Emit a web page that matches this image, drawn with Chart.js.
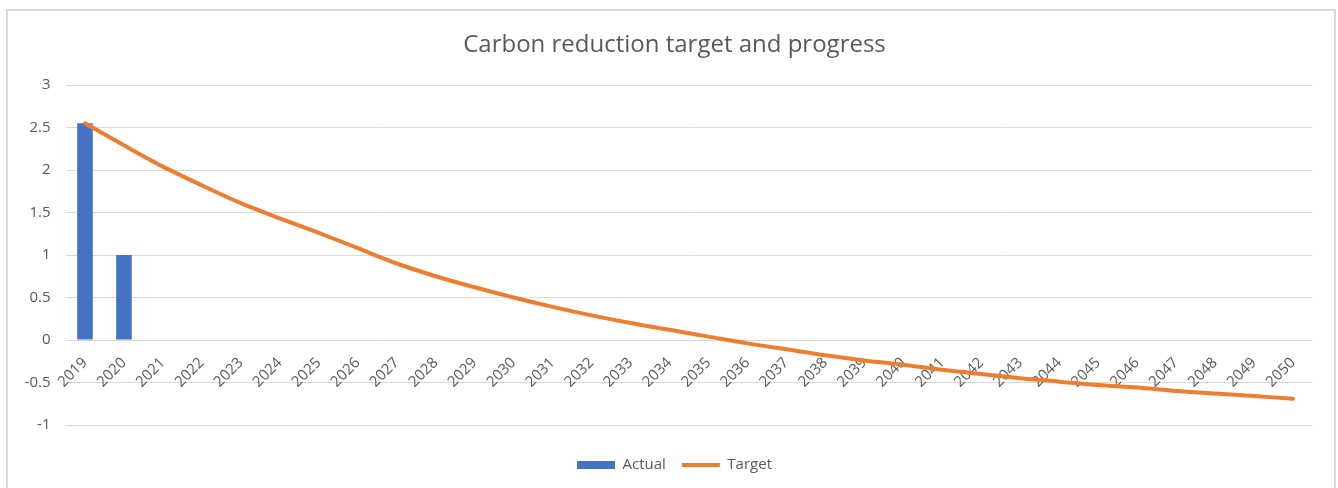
<!DOCTYPE html>
<html>
<head>
<meta charset="utf-8">
<title>Carbon reduction target and progress</title>
<script src="https://cdn.jsdelivr.net/npm/chart.js@4"></script>
<style>
    html, body { margin: 0; padding: 0; background: #fff; }
    #frame { position: absolute; left: 6px; top: 9px; width: 1326px; height: 490px; border: 2px solid #d9d9d9; }
    #wrap { position: absolute; left: 0; top: 0; width: 1338px; height: 488px; }
</style>
</head>
<body>
<div id="frame"></div>
<div id="wrap"><canvas id="carbonChart"></canvas></div>
<script>
const years = ["2019", "2020", "2021", "2022", "2023", "2024", "2025", "2026",
    "2027", "2028", "2029", "2030", "2031", "2032", "2033", "2034",
    "2035", "2036", "2037", "2038", "2039", "2040", "2041", "2042",
    "2043", "2044", "2045", "2046", "2047", "2048", "2049", "2050"];

const actual = [2.55, 1.00];

const target = [2.55, 2.29, 2.04, 1.82, 1.61, 1.43, 1.26, 1.08,
    0.90, 0.75, 0.62, 0.50, 0.39, 0.29, 0.20, 0.12,
    0.04, -0.04, -0.11, -0.18, -0.24, -0.29, -0.35, -0.40,
    -0.45, -0.49, -0.53, -0.56, -0.60, -0.63, -0.66, -0.69];

const textColor = "#595959";
const gridColor = "#d9d9d9";
const fontFamily = "Open Sans";

const canvas = document.getElementById("carbonChart");
const chart = new Chart(canvas, {
    type: "bar",
    data: {
        labels: years,
        datasets: [{
            label: "Actual",
            data: actual,
            backgroundColor: "#4472c4",
            borderWidth: 0,
            categoryPercentage: 1,
            barPercentage: 0.4,
            order: 1
        }, {
            type: "line",
            label: "Target",
            data: target,
            borderColor: "#ed7d31",
            backgroundColor: "#ed7d31",
            borderWidth: 4,
            borderCapStyle: "round",
            pointRadius: 0,
            tension: 0.3,
            fill: false,
            order: 0
        }]
    },
    options: {
        responsive: true,
        maintainAspectRatio: false,
        animation: false,
        layout: {
            padding: { left: 11, right: 0, top: 0, bottom: 5.5 }
        },
        plugins: {
            title: {
                display: true,
                text: "Carbon reduction target and progress",
                color: textColor,
                font: { family: fontFamily, size: 24, weight: "normal" },
                padding: { top: 31, bottom: 25.2 }
            },
            legend: {
                position: "bottom",
                labels: {
                    color: textColor,
                    font: { family: fontFamily, size: 15 },
                    usePointStyle: true,
                    pointStyleWidth: 38,
                    boxHeight: 8,
                    padding: 16,
                    sort: (a, b) => a.datasetIndex - b.datasetIndex,
                    generateLabels: c => Chart.defaults.plugins.legend.labels.generateLabels(c)
                        .map(item => ({ ...item, pointStyle: item.datasetIndex === 0 ? "rect" : "line" }))
                }
            },
            tooltip: { enabled: false }
        },
        scales: {
            x: {
                position: { y: 0 },
                offset: true,
                grid: { display: false, drawTicks: false },
                border: { display: false },
                ticks: {
                    color: textColor,
                    font: { family: fontFamily, size: 15 },
                    minRotation: 45,
                    maxRotation: 45,
                    autoSkip: false,
                    padding: 14
                }
            },
            // empty axes that only keep room round the plot
            spacer: {
                type: "category",
                position: "bottom",
                grid: { display: false, drawTicks: false },
                border: { display: false },
                ticks: { display: false },
                afterFit: scale => { scale.height = 16.5; }
            },
            y: {
                min: -1,
                max: 3,
                grid: { color: gridColor, drawTicks: false },
                border: { display: false },
                ticks: {
                    stepSize: 0.5,
                    color: textColor,
                    font: { family: fontFamily, size: 15 },
                    padding: 15,
                    callback: v => String(Math.round(v * 100) / 100)
                },
                afterFit: scale => { scale.width = 54.5; }
            },
            spacerRight: {
                type: "linear",
                position: "right",
                grid: { display: false, drawTicks: false },
                border: { display: false },
                ticks: { display: false },
                afterFit: scale => { scale.width = 25.5; }
            }
        }
    }
});
</script>
</body>
</html>
